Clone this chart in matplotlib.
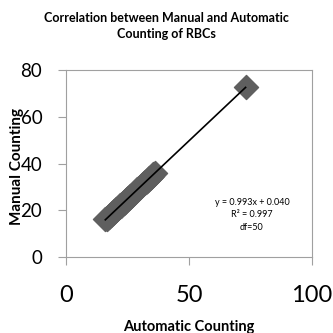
import matplotlib.pyplot as plt

# automatic vs manual RBC counts
automatic = [16.0, 16.5, 17.0, 17.4, 18.0, 18.3, 18.8, 19.2, 19.5, 20.0,
             20.4, 20.8, 21.1, 21.5, 22.0, 22.3, 22.7, 23.0, 23.4, 23.8,
             24.1, 24.5, 25.0, 25.3, 25.7, 26.0, 26.4, 26.8, 27.2, 27.5,
             28.0, 28.3, 28.7, 29.0, 29.4, 29.8, 30.2, 30.5, 31.0, 31.3,
             31.7, 32.0, 32.5, 32.9, 33.3, 33.8, 34.2, 34.6, 35.0, 35.5,
             36.2, 73.0]
manual = [16.2, 16.3, 17.1, 17.2, 18.1, 18.0, 18.9, 19.0, 19.5, 19.8,
          20.5, 20.6, 21.0, 21.4, 22.1, 22.0, 22.5, 23.0, 23.1, 23.7,
          24.0, 24.3, 25.0, 25.2, 25.4, 26.0, 26.1, 26.7, 27.0, 27.4,
          27.8, 28.2, 28.5, 29.0, 29.1, 29.6, 30.0, 30.4, 30.8, 31.1,
          31.5, 31.9, 32.3, 32.6, 33.0, 33.6, 34.0, 34.3, 34.8, 35.3,
          35.9, 72.6]
slope = 0.993
intercept = 0.040
eq_lines = ["y = 0.993x + 0.040", "R\u00b2 = 0.997", "df=50"]


def main():
    plt.rcParams["font.family"] = ["Lato", "DejaVu Sans"]
    fig = plt.figure(figsize=(3.33, 3.33), dpi=100)
    ax = fig.add_axes([0.198, 0.228, 0.739, 0.562])

    ax.scatter(automatic, manual, marker="D", s=150, color="#5f5f5f",
               edgecolors="#5f5f5f", zorder=2)
    x0, x1 = min(automatic), max(automatic)
    ax.plot([x0, x1], [slope * x0 + intercept, slope * x1 + intercept],
            color="black", lw=1.2, zorder=3)

    ax.set_xlim(0, 100)
    ax.set_ylim(0, 80)
    ax.set_xticks([0, 50, 100])
    ax.set_yticks([0, 20, 40, 60, 80])
    for s in ax.spines.values():
        s.set_color("#a0a0a0")
    ax.tick_params(axis="both", colors="#a0a0a0", labelcolor="black",
                   length=6, direction="out")
    ax.tick_params(axis="x", labelsize=17, pad=14)
    ax.tick_params(axis="y", labelsize=13.5, pad=11)

    fig.text(0.5, 0.922, "Correlation between Manual and Automatic\nCounting of RBCs",
             ha="center", va="center", fontsize=9, fontweight="bold",
             linespacing=1.4)
    fig.text(0.568, 0.018, "Automatic Counting", ha="center", va="center",
             fontsize=10.5, fontweight="bold")
    fig.text(0.05, 0.5, "Manual Counting", ha="center", va="center",
             rotation=90, fontsize=11, fontweight="bold")

    ax.text(0.756, 0.225, "\n".join(eq_lines), transform=ax.transAxes,
            ha="center", va="center", fontsize=6.5, linespacing=1.45)

    fig.savefig("out.png", dpi=100)


if __name__ == "__main__":
    main()
